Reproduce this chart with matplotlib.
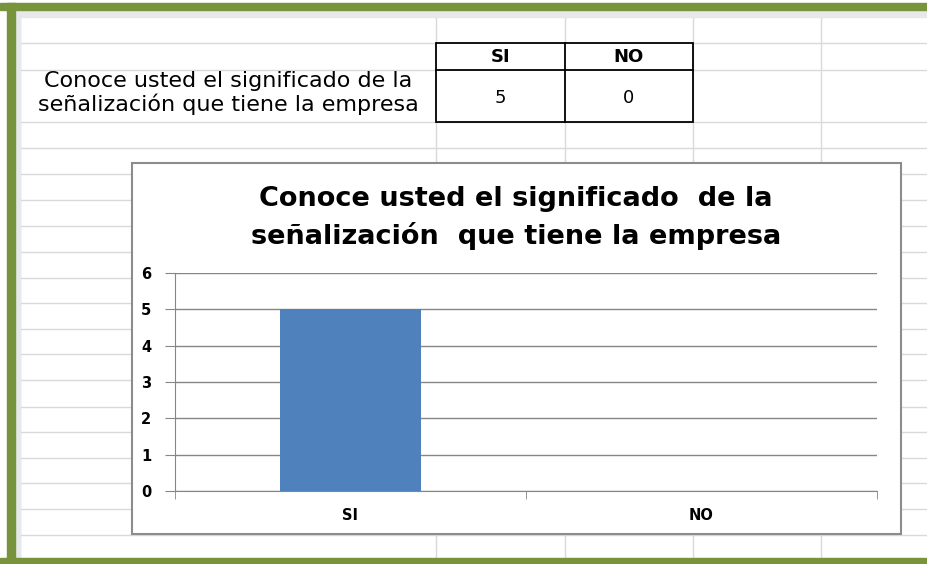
import matplotlib.pyplot as plt
from matplotlib.patches import Rectangle

# data
categories = ["SI", "NO"]
values = [5, 0]
question = "Conoce usted el significado de la\nseñalización que tiene la empresa"
title = "Conoce usted el significado  de la\nseñalización  que tiene la empresa"
yticks = [0, 1, 2, 3, 4, 5, 6]

W, H = 928, 564
fig = plt.figure(figsize=(W / 100, H / 100), dpi=100)

# spreadsheet background, in pixel coords
bg = fig.add_axes([0, 0, 1, 1])
bg.set_xlim(0, W)
bg.set_ylim(H, 0)
bg.axis("off")

grid_c = "#d9d9d9"
row_lines = [43, 70, 122, 148, 174, 200, 226, 252, 278, 303, 329, 354, 380, 407, 432, 458, 483, 509, 535]
col_lines = [20, 436, 565, 693, 821]
for y in row_lines:
    bg.plot([20, W], [y, y], color=grid_c, lw=1, zorder=1)
for x in col_lines:
    bg.plot([x, x], [17, 558], color=grid_c, lw=1, zorder=1)

# headers strip
bg.add_patch(Rectangle((15, 10), W - 15, 7, color="#e6e8ec", zorder=2))
bg.add_patch(Rectangle((15, 10), 5, 548, color="#e6e8ec", zorder=2))
# green frame
green = "#77933c"
bg.add_patch(Rectangle((0, 3), W, 7, color=green, zorder=3))
bg.add_patch(Rectangle((7, 3), 8, H - 3, color=green, zorder=3))
bg.add_patch(Rectangle((0, 558), W, 6, color=green, zorder=3))

# data table
tx = [436, 565, 693]
ty = [43, 70, 122]
bg.add_patch(Rectangle((tx[0], ty[0]), tx[2] - tx[0], ty[2] - ty[0], facecolor="white",
                       edgecolor="black", lw=1.3, zorder=4))
bg.plot([tx[0], tx[2]], [ty[1], ty[1]], color="black", lw=1.3, zorder=5)
bg.plot([tx[1], tx[1]], [ty[0], ty[2]], color="black", lw=1.3, zorder=5)
for i, (c, v) in enumerate(zip(categories, values)):
    cx = (tx[i] + tx[i + 1]) / 2
    bg.text(cx, 57, c, ha="center", va="center", fontsize=13, fontweight="bold",
            family="DejaVu Sans", zorder=6)
    bg.text(cx, 98, str(v), ha="center", va="center", fontsize=13,
            family="DejaVu Sans", zorder=6)
bg.text(228, 93, question, ha="center", va="center", fontsize=16,
        family="DejaVu Sans", linespacing=1.1, zorder=6)

# chart box
bg.add_patch(Rectangle((132, 163), 901 - 132, 534 - 163, facecolor="white",
                       edgecolor="#8c8c8c", lw=1.5, zorder=7))
bg.text(516, 218, title, ha="center", va="center", fontsize=19.5, fontweight="bold",
        family="DejaVu Sans", linespacing=1.5, zorder=8)

# chart
ax = fig.add_axes([175 / W, (H - 491) / H, (877 - 175) / W, (491 - 273) / H])
ax.set_zorder(10)
ax.patch.set_alpha(0)
ax.bar(categories, values, width=0.4, color="#4f81bd", zorder=3)
ax.set_xlim(-0.5, 1.5)
ax.set_ylim(0, 6)
ax.set_yticks(yticks)
ax.yaxis.grid(True, color="#868686", lw=1)
ax.set_axisbelow(True)
for s in ["top", "right"]:
    ax.spines[s].set_visible(False)
for s in ["left", "bottom"]:
    ax.spines[s].set_color("#868686")
ax.set_xticks([0, 1])
ax.set_xticks([-0.5, 0.5, 1.5], minor=True)
ax.tick_params(axis="x", which="major", length=0, pad=12)
ax.tick_params(axis="x", which="minor", length=6, color="#868686")
ax.tick_params(axis="y", length=7, color="#868686", pad=10)
for lab in ax.get_xticklabels() + ax.get_yticklabels():
    lab.set_fontweight("bold")
    lab.set_family("DejaVu Sans")
    lab.set_fontsize(10.5)

fig.savefig("out.png", dpi=100)
